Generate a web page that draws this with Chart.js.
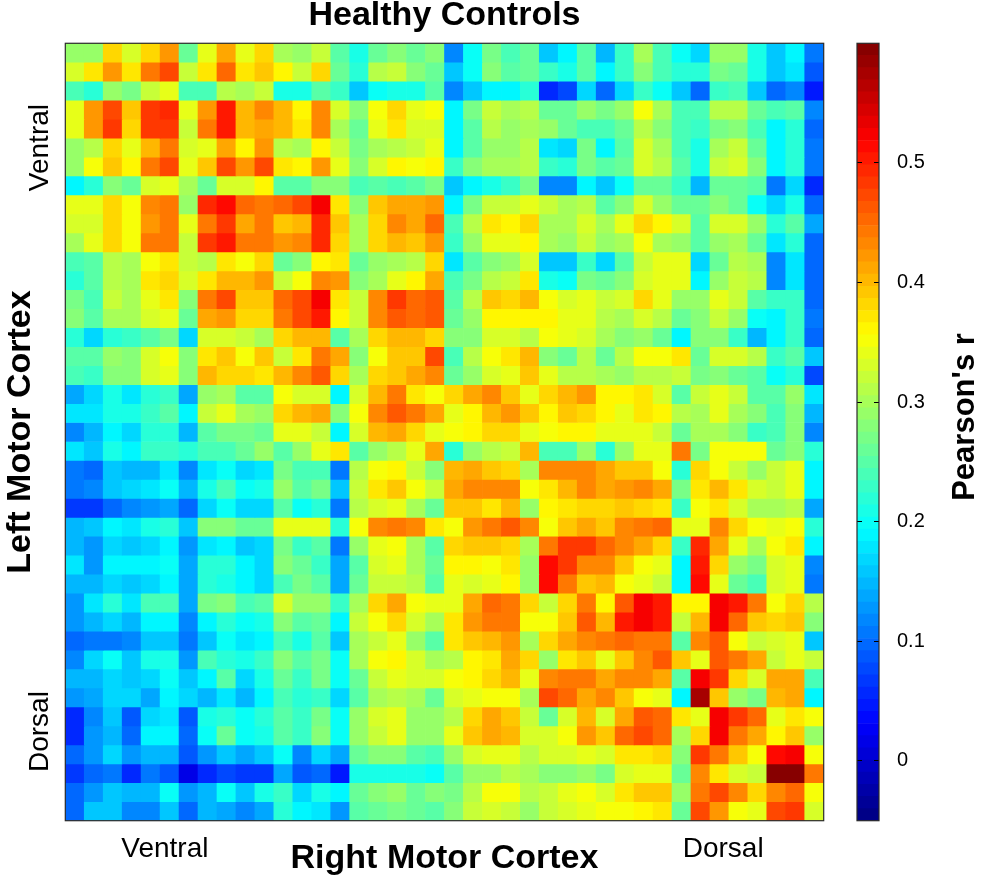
<!DOCTYPE html>
<html>
<head>
<meta charset="utf-8">
<title>Healthy Controls</title>
<script src="https://cdn.jsdelivr.net/npm/chart.js@4.4.1/dist/chart.umd.min.js"></script>
<style>
  html, body { margin: 0; padding: 0; background: #fff; }
  #wrap { position: relative; width: 981px; height: 880px; overflow: hidden; }
  #heat { position: absolute; left: 0; top: 0; }
  #cbar { position: absolute; left: 840px; top: 0; }
</style>
</head>
<body>
<div id="wrap">
  <canvas id="heat" width="889" height="880"></canvas>
  <canvas id="cbar" width="141" height="880"></canvas>
</div>
<script>
// Pearson's r, left motor cortex ROIs (rows, ventral -> dorsal)
// against right motor cortex ROIs (columns, ventral -> dorsal)
const L01 = [0.29,0.29,0.38,0.33,0.38,0.42,0.26,0.34,0.41,0.34,0.38,0.30,0.29,0.32,0.25,0.21,0.26,0.28,0.26,0.28,0.12,0.20,0.27,0.24,0.26,0.16,0.19,0.25,0.15,0.23,0.30,0.24,0.20,0.17,0.29,0.29,0.21,0.16,0.19,0.11];
const L02 = [0.33,0.37,0.42,0.37,0.44,0.47,0.32,0.37,0.45,0.37,0.39,0.36,0.32,0.38,0.26,0.22,0.31,0.32,0.28,0.26,0.16,0.20,0.28,0.25,0.26,0.23,0.21,0.25,0.19,0.23,0.28,0.24,0.22,0.22,0.27,0.26,0.21,0.16,0.18,0.09];
const L03 = [0.24,0.22,0.29,0.27,0.32,0.34,0.24,0.24,0.31,0.30,0.32,0.21,0.21,0.25,0.23,0.16,0.20,0.21,0.21,0.25,0.12,0.16,0.19,0.19,0.22,0.06,0.08,0.17,0.10,0.17,0.23,0.20,0.16,0.10,0.23,0.24,0.16,0.10,0.12,0.05];
const L04 = [0.34,0.42,0.47,0.39,0.48,0.49,0.34,0.42,0.50,0.40,0.43,0.40,0.36,0.43,0.33,0.28,0.35,0.38,0.34,0.35,0.19,0.27,0.32,0.30,0.31,0.26,0.26,0.29,0.27,0.29,0.35,0.30,0.24,0.24,0.31,0.31,0.26,0.24,0.25,0.12];
const L05 = [0.34,0.42,0.48,0.38,0.48,0.48,0.32,0.44,0.50,0.40,0.41,0.40,0.37,0.43,0.30,0.26,0.34,0.37,0.33,0.33,0.19,0.25,0.31,0.29,0.30,0.29,0.26,0.24,0.24,0.26,0.31,0.28,0.24,0.23,0.27,0.28,0.24,0.19,0.22,0.10];
const L06 = [0.29,0.31,0.38,0.34,0.40,0.44,0.33,0.34,0.41,0.36,0.42,0.31,0.30,0.36,0.32,0.27,0.30,0.31,0.32,0.34,0.19,0.25,0.29,0.29,0.31,0.18,0.17,0.27,0.19,0.25,0.33,0.30,0.24,0.21,0.30,0.32,0.26,0.19,0.22,0.11];
const L07 = [0.29,0.35,0.39,0.36,0.44,0.47,0.34,0.39,0.47,0.42,0.47,0.37,0.36,0.42,0.34,0.28,0.33,0.36,0.35,0.36,0.23,0.28,0.30,0.30,0.31,0.23,0.22,0.27,0.25,0.26,0.33,0.31,0.25,0.21,0.32,0.33,0.28,0.19,0.22,0.11];
const L08 = [0.19,0.22,0.28,0.26,0.33,0.34,0.30,0.26,0.33,0.33,0.36,0.25,0.25,0.28,0.28,0.24,0.25,0.24,0.25,0.27,0.16,0.19,0.21,0.23,0.27,0.12,0.12,0.19,0.16,0.20,0.26,0.26,0.23,0.15,0.26,0.26,0.25,0.11,0.17,0.06];
const L09 = [0.34,0.34,0.38,0.35,0.43,0.44,0.29,0.49,0.51,0.45,0.44,0.45,0.47,0.52,0.37,0.28,0.39,0.41,0.41,0.42,0.19,0.27,0.32,0.32,0.34,0.32,0.30,0.31,0.25,0.28,0.33,0.29,0.26,0.26,0.28,0.26,0.20,0.17,0.21,0.10];
const L10 = [0.33,0.33,0.38,0.35,0.42,0.44,0.34,0.44,0.48,0.41,0.44,0.39,0.40,0.49,0.39,0.30,0.38,0.43,0.41,0.45,0.24,0.31,0.37,0.36,0.38,0.30,0.30,0.33,0.30,0.34,0.38,0.36,0.33,0.25,0.33,0.33,0.29,0.22,0.25,0.14];
const L11 = [0.30,0.34,0.38,0.35,0.44,0.44,0.32,0.48,0.50,0.44,0.44,0.42,0.43,0.49,0.38,0.30,0.38,0.40,0.39,0.42,0.23,0.29,0.34,0.34,0.36,0.30,0.29,0.32,0.29,0.30,0.35,0.30,0.29,0.25,0.29,0.30,0.26,0.18,0.22,0.10];
const L12 = [0.24,0.25,0.31,0.30,0.35,0.37,0.32,0.31,0.37,0.35,0.38,0.26,0.28,0.36,0.37,0.26,0.29,0.30,0.31,0.38,0.18,0.25,0.28,0.29,0.33,0.16,0.16,0.23,0.17,0.25,0.32,0.34,0.34,0.17,0.26,0.31,0.30,0.12,0.18,0.10];
const L13 = [0.22,0.25,0.31,0.30,0.37,0.38,0.33,0.37,0.40,0.40,0.42,0.32,0.35,0.43,0.42,0.28,0.30,0.34,0.36,0.41,0.24,0.27,0.31,0.32,0.37,0.21,0.20,0.27,0.26,0.28,0.33,0.34,0.34,0.19,0.29,0.32,0.31,0.12,0.18,0.10];
const L14 = [0.27,0.24,0.32,0.30,0.34,0.37,0.28,0.44,0.47,0.39,0.39,0.45,0.47,0.52,0.37,0.32,0.43,0.48,0.45,0.46,0.25,0.31,0.39,0.38,0.40,0.35,0.33,0.34,0.32,0.33,0.38,0.34,0.29,0.29,0.34,0.32,0.25,0.23,0.23,0.10];
const L15 = [0.28,0.25,0.30,0.30,0.33,0.34,0.26,0.41,0.42,0.38,0.38,0.44,0.47,0.50,0.36,0.32,0.43,0.46,0.45,0.46,0.26,0.29,0.36,0.36,0.36,0.36,0.34,0.34,0.31,0.30,0.33,0.31,0.26,0.28,0.32,0.29,0.20,0.19,0.23,0.11];
const L16 = [0.22,0.17,0.22,0.23,0.25,0.27,0.17,0.33,0.33,0.32,0.30,0.38,0.40,0.40,0.25,0.30,0.38,0.40,0.40,0.38,0.28,0.28,0.33,0.33,0.31,0.35,0.34,0.33,0.30,0.28,0.29,0.26,0.19,0.28,0.28,0.23,0.15,0.19,0.23,0.10];
const L17 = [0.25,0.25,0.29,0.28,0.33,0.35,0.28,0.37,0.39,0.35,0.39,0.32,0.37,0.44,0.41,0.28,0.35,0.39,0.39,0.47,0.24,0.31,0.355,0.37,0.40,0.28,0.26,0.31,0.26,0.31,0.355,0.355,0.37,0.26,0.33,0.33,0.31,0.23,0.25,0.16];
const L18 = [0.24,0.23,0.28,0.28,0.33,0.34,0.28,0.40,0.38,0.38,0.37,0.40,0.43,0.46,0.38,0.30,0.38,0.39,0.41,0.43,0.26,0.29,0.33,0.34,0.39,0.34,0.31,0.31,0.30,0.29,0.31,0.31,0.32,0.27,0.28,0.26,0.25,0.20,0.22,0.08];
const L19 = [0.14,0.17,0.21,0.18,0.22,0.23,0.14,0.29,0.30,0.25,0.25,0.35,0.33,0.33,0.19,0.33,0.40,0.44,0.37,0.355,0.38,0.41,0.43,0.39,0.34,0.38,0.40,0.42,0.36,0.36,0.37,0.33,0.25,0.32,0.34,0.32,0.25,0.25,0.29,0.18];
const L20 = [0.18,0.18,0.21,0.21,0.23,0.25,0.19,0.32,0.34,0.30,0.29,0.38,0.40,0.41,0.28,0.35,0.43,0.46,0.44,0.41,0.34,0.36,0.40,0.42,0.39,0.36,0.39,0.38,0.36,0.34,0.37,0.36,0.31,0.30,0.34,0.30,0.28,0.24,0.28,0.15];
const L21 = [0.12,0.15,0.19,0.17,0.22,0.22,0.15,0.25,0.27,0.27,0.26,0.34,0.34,0.32,0.19,0.33,0.40,0.41,0.38,0.34,0.35,0.36,0.38,0.38,0.34,0.35,0.36,0.36,0.34,0.34,0.34,0.32,0.26,0.30,0.30,0.28,0.23,0.24,0.28,0.12];
const L22 = [0.18,0.16,0.21,0.19,0.23,0.23,0.22,0.24,0.24,0.26,0.29,0.25,0.29,0.34,0.37,0.25,0.29,0.31,0.34,0.41,0.22,0.29,0.31,0.32,0.40,0.24,0.24,0.29,0.22,0.29,0.34,0.34,0.44,0.27,0.35,0.355,0.355,0.26,0.28,0.22];
const L23 = [0.11,0.10,0.16,0.15,0.15,0.18,0.12,0.18,0.20,0.17,0.18,0.27,0.24,0.24,0.11,0.31,0.35,0.36,0.32,0.28,0.40,0.41,0.39,0.38,0.30,0.43,0.43,0.43,0.41,0.39,0.39,0.355,0.22,0.38,0.35,0.32,0.29,0.32,0.34,0.19];
const L24 = [0.11,0.12,0.16,0.17,0.18,0.20,0.15,0.21,0.24,0.20,0.21,0.29,0.25,0.27,0.16,0.32,0.37,0.39,0.35,0.32,0.41,0.43,0.43,0.43,0.35,0.37,0.40,0.43,0.41,0.42,0.43,0.41,0.27,0.37,0.40,0.37,0.33,0.32,0.34,0.19];
const L25 = [0.07,0.07,0.10,0.12,0.13,0.14,0.10,0.17,0.20,0.17,0.17,0.25,0.20,0.22,0.11,0.31,0.33,0.34,0.30,0.26,0.39,0.39,0.37,0.40,0.29,0.36,0.37,0.38,0.38,0.395,0.38,0.37,0.23,0.355,0.37,0.33,0.30,0.30,0.31,0.14];
const L26 = [0.15,0.16,0.19,0.18,0.21,0.22,0.16,0.28,0.28,0.26,0.26,0.34,0.34,0.34,0.22,0.35,0.43,0.44,0.43,0.37,0.355,0.42,0.44,0.46,0.43,0.355,0.39,0.41,0.39,0.43,0.44,0.45,0.34,0.34,0.43,0.38,0.35,0.34,0.355,0.22];
const L27 = [0.15,0.13,0.17,0.16,0.17,0.19,0.13,0.18,0.19,0.16,0.17,0.27,0.23,0.25,0.11,0.29,0.34,0.355,0.30,0.25,0.38,0.39,0.39,0.38,0.30,0.44,0.48,0.48,0.45,0.43,0.41,0.38,0.23,0.49,0.41,0.34,0.30,0.355,0.37,0.19];
const L28 = [0.18,0.13,0.19,0.19,0.19,0.20,0.14,0.22,0.22,0.19,0.17,0.28,0.26,0.23,0.14,0.25,0.33,0.34,0.30,0.26,0.36,0.36,0.355,0.37,0.29,0.51,0.48,0.43,0.43,0.39,0.355,0.34,0.19,0.50,0.38,0.29,0.27,0.33,0.34,0.12];
const L29 = [0.15,0.15,0.17,0.16,0.17,0.19,0.14,0.22,0.21,0.19,0.17,0.24,0.27,0.25,0.14,0.26,0.32,0.32,0.31,0.25,0.34,0.33,0.34,0.36,0.29,0.51,0.44,0.39,0.40,0.355,0.34,0.32,0.19,0.51,0.34,0.26,0.24,0.33,0.34,0.11];
const L30 = [0.13,0.18,0.22,0.18,0.24,0.24,0.14,0.27,0.28,0.24,0.25,0.33,0.29,0.29,0.23,0.30,0.38,0.41,0.355,0.34,0.34,0.41,0.45,0.44,0.38,0.32,0.38,0.44,0.36,0.46,0.52,0.50,0.36,0.36,0.52,0.50,0.44,0.355,0.38,0.31];
const L31 = [0.13,0.15,0.17,0.15,0.19,0.19,0.12,0.19,0.22,0.20,0.21,0.28,0.25,0.26,0.19,0.32,0.355,0.38,0.33,0.30,0.37,0.42,0.44,0.44,0.355,0.355,0.39,0.46,0.40,0.50,0.52,0.50,0.32,0.40,0.52,0.45,0.39,0.38,0.39,0.28];
const L32 = [0.10,0.11,0.11,0.12,0.16,0.16,0.11,0.16,0.20,0.18,0.19,0.24,0.21,0.25,0.16,0.30,0.32,0.34,0.29,0.25,0.37,0.39,0.40,0.42,0.30,0.38,0.41,0.43,0.44,0.45,0.44,0.44,0.25,0.43,0.46,0.355,0.32,0.33,0.34,0.16];
const L33 = [0.12,0.17,0.20,0.16,0.21,0.21,0.13,0.24,0.22,0.21,0.23,0.28,0.25,0.27,0.20,0.30,0.35,0.36,0.33,0.30,0.31,0.36,0.37,0.41,0.38,0.29,0.37,0.39,0.34,0.39,0.43,0.46,0.39,0.34,0.46,0.44,0.41,0.32,0.34,0.32];
const L34 = [0.15,0.15,0.17,0.16,0.17,0.20,0.16,0.19,0.25,0.17,0.21,0.26,0.23,0.27,0.20,0.26,0.32,0.34,0.33,0.33,0.35,0.36,0.38,0.40,0.34,0.43,0.44,0.44,0.41,0.43,0.43,0.41,0.25,0.52,0.48,0.38,0.33,0.41,0.41,0.24];
const L35 = [0.13,0.14,0.17,0.17,0.14,0.19,0.17,0.15,0.18,0.15,0.19,0.24,0.22,0.23,0.17,0.25,0.30,0.31,0.30,0.26,0.33,0.34,0.35,0.35,0.30,0.47,0.45,0.41,0.43,0.39,0.355,0.34,0.19,0.57,0.39,0.29,0.27,0.40,0.41,0.19];
const L36 = [0.06,0.12,0.16,0.09,0.17,0.18,0.09,0.21,0.22,0.20,0.22,0.25,0.23,0.27,0.20,0.29,0.33,0.345,0.29,0.29,0.31,0.38,0.41,0.39,0.32,0.26,0.33,0.40,0.33,0.41,0.46,0.45,0.37,0.34,0.52,0.48,0.45,0.34,0.37,0.355];
const L37 = [0.06,0.13,0.15,0.10,0.19,0.19,0.10,0.20,0.26,0.20,0.21,0.25,0.23,0.28,0.20,0.29,0.32,0.34,0.29,0.29,0.34,0.39,0.41,0.40,0.33,0.33,0.355,0.42,0.39,0.45,0.47,0.45,0.30,0.38,0.52,0.44,0.41,0.36,0.39,0.29];
const L38 = [0.10,0.13,0.17,0.13,0.15,0.15,0.09,0.13,0.16,0.14,0.16,0.20,0.12,0.17,0.14,0.26,0.28,0.28,0.25,0.24,0.29,0.33,0.34,0.34,0.31,0.33,0.33,0.34,0.33,0.37,0.37,0.38,0.28,0.48,0.44,0.39,0.355,0.51,0.52,0.355];
const L39 = [0.07,0.10,0.11,0.06,0.11,0.09,0.02,0.06,0.08,0.07,0.07,0.14,0.09,0.10,0.05,0.21,0.21,0.21,0.21,0.20,0.25,0.29,0.29,0.31,0.30,0.28,0.28,0.29,0.27,0.33,0.34,0.34,0.26,0.43,0.37,0.33,0.32,0.60,0.60,0.44];
const L40 = [0.10,0.13,0.16,0.15,0.15,0.20,0.13,0.15,0.20,0.16,0.21,0.23,0.17,0.21,0.19,0.26,0.28,0.29,0.26,0.28,0.27,0.31,0.355,0.355,0.31,0.32,0.34,0.355,0.33,0.37,0.39,0.39,0.29,0.44,0.47,0.43,0.38,0.43,0.45,0.35];
const L41 = [0.10,0.16,0.16,0.12,0.12,0.16,0.10,0.15,0.14,0.12,0.14,0.22,0.19,0.18,0.13,0.25,0.26,0.27,0.26,0.25,0.28,0.32,0.33,0.32,0.29,0.32,0.33,0.34,0.355,0.355,0.36,0.37,0.26,0.47,0.42,0.355,0.34,0.47,0.48,0.33];

const leftRows = [L01,L02,L03,L04,L05,L06,L07,L08,L09,L10,L11,L12,L13,L14,L15,L16,L17,L18,L19,L20,
                  L21,L22,L23,L24,L25,L26,L27,L28,L29,L30,L31,L32,L33,L34,L35,L36,L37,L38,L39,L40,L41];
const rightRois = L01.map((_, i) => 'R' + (i + 1));

// end labels of both axes (in column / row units)
const endNames = ['Ventral', 'Dorsal'];
const rightEndsAt = [4.75, 34.2];
const leftEndsAt = [5.5, 36.3];

// colour scale
const colorRange = [-0.05, 0.6];
const colorTicks = [0, 0.1, 0.2, 0.3, 0.4, 0.5];

const FONT = '"Liberation Sans", Arial, Helvetica, sans-serif';

// matlab style jet, 64 levels
function jet(v) {
  let t = (v - colorRange[0]) / (colorRange[1] - colorRange[0]);
  t = Math.min(Math.max(t, 0), 1);
  const k = Math.min(63, Math.floor(t * 64));
  const x = (k + 0.5) / 64;
  const ch = c => Math.round(255 * Math.min(1, Math.max(0, 1.5 - Math.abs(4 * x - c))));
  return 'rgb(' + ch(3) + ',' + ch(2) + ',' + ch(1) + ')';
}

const frame = {
  id: 'frame',
  afterDraw(chart) {
    const { ctx, chartArea: a } = chart;
    ctx.save();
    ctx.strokeStyle = '#2b2b2b';
    ctx.lineWidth = 1.2;
    ctx.strokeRect(a.left, a.top, a.right - a.left, a.bottom - a.top);
    ctx.restore();
  }
};

const endLabels = {
  id: 'endLabels',
  afterDraw(chart) {
    const { ctx, scales: { x, y } } = chart;
    ctx.save();
    ctx.fillStyle = '#000';
    ctx.font = '28px ' + FONT;
    ctx.textAlign = 'center';
    ctx.textBaseline = 'middle';
    endNames.forEach((name, i) => {
      ctx.fillText(name, x.getPixelForValue(rightEndsAt[i]), x.top + 29);
      ctx.save();
      ctx.translate(y.left + 40, y.getPixelForValue(leftEndsAt[i]));
      ctx.rotate(-Math.PI / 2);
      ctx.fillText(name, 0, 0);
      ctx.restore();
    });
    ctx.restore();
  }
};

const cbarTitle = {
  id: 'cbarTitle',
  afterDraw(chart) {
    const { ctx, chartArea: a, scales: { y } } = chart;
    ctx.save();
    ctx.fillStyle = '#000';
    ctx.font = 'bold 31px ' + FONT;
    ctx.textAlign = 'center';
    ctx.textBaseline = 'middle';
    ctx.translate(y.right - 16, (a.top + a.bottom) / 2 - 15);
    ctx.rotate(-Math.PI / 2);
    ctx.fillText("Pearson's r", 0, 0);
    ctx.restore();
  }
};

const titleFont = { family: FONT, size: 34, weight: 'bold', lineHeight: 1 };

new Chart(document.getElementById('heat'), {
  type: 'bar',
  data: {
    labels: rightRois,
    datasets: leftRows.map((vals, i) => ({
      label: 'L' + (i + 1),
      data: vals.map(() => 1),
      backgroundColor: vals.map(jet),
      borderWidth: 0,
      barPercentage: 1,
      categoryPercentage: 1
    }))
  },
  options: {
    responsive: false,
    animation: false,
    devicePixelRatio: 1,
    layout: { padding: 0 },
    plugins: {
      legend: { display: false },
      tooltip: { enabled: false },
      title: {
        display: true,
        text: 'Healthy Controls',
        color: '#000',
        font: { family: FONT, size: 34, weight: 'bold', lineHeight: 0.92 },
        padding: { top: 0, bottom: 12 }
      }
    },
    scales: {
      x: {
        stacked: true,
        grid: { display: false },
        border: { display: false },
        ticks: { display: false },
        title: { display: true, text: 'Right Motor Cortex', color: '#000', font: titleFont, padding: { top: 0, bottom: 4 } },
        afterFit: s => { s.height = 59.3; }
      },
      y: {
        stacked: true,
        min: 0,
        max: leftRows.length,
        reverse: true,
        grid: { display: false },
        border: { display: false },
        ticks: { display: false },
        title: { display: true, text: 'Left Motor Cortex', color: '#000', font: titleFont, padding: { top: 3.5, bottom: 0 } },
        afterFit: s => { s.width = 65.3; }
      },
      y2: {
        position: 'right',
        grid: { display: false },
        border: { display: false },
        ticks: { display: false },
        afterFit: s => { s.width = 65.3; }
      }
    }
  },
  plugins: [frame, endLabels]
});

const step = (colorRange[1] - colorRange[0]) / 64;
const bands = Array.from({ length: 64 }, (_, k) => [colorRange[0] + k * step, colorRange[0] + (k + 1) * step]);

new Chart(document.getElementById('cbar'), {
  type: 'bar',
  data: {
    labels: [''],
    datasets: bands.map(b => ({
      data: [b],
      backgroundColor: jet((b[0] + b[1]) / 2),
      borderWidth: 0,
      grouped: false,
      barPercentage: 1,
      categoryPercentage: 1
    }))
  },
  options: {
    responsive: false,
    animation: false,
    devicePixelRatio: 1,
    layout: { padding: { left: 17, right: 0, top: 43.3, bottom: 59.3 } },
    plugins: { legend: { display: false }, tooltip: { enabled: false } },
    scales: {
      x: { display: false },
      y: {
        position: 'right',
        min: colorRange[0],
        max: colorRange[1],
        afterBuildTicks: s => { s.ticks = colorTicks.map(v => ({ value: v })); },
        afterFit: s => { s.width = 102; },
        // short tick marks on both inner edges of the bar
        grid: { color: '#000', lineWidth: 1, drawTicks: false, z: 1 },
        border: { display: false, dash: [5, 12] },
        ticks: { color: '#000', padding: 18, font: { family: FONT, size: 20 }, callback: v => String(v) }
      }
    }
  },
  plugins: [frame, cbarTitle]
});
</script>
</body>
</html>
